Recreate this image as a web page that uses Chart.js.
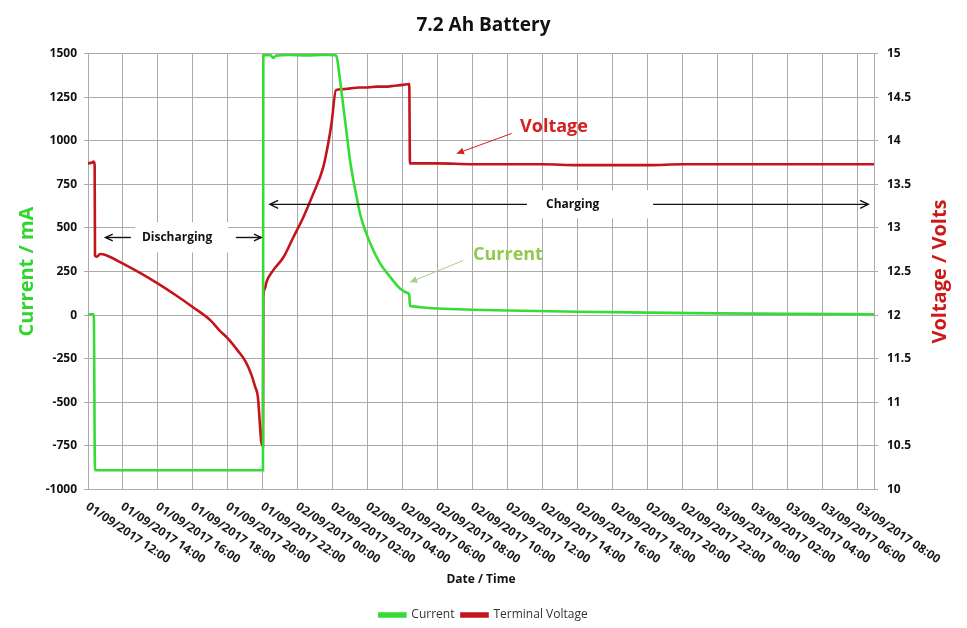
<!DOCTYPE html>
<html lang="en">
<head>
<meta charset="UTF-8">
<title>7.2 Ah Battery</title>
<script src="https://cdn.jsdelivr.net/npm/chart.js"></script>
<style>
    * { margin: 0; padding: 0; box-sizing: border-box; }
    body { background: #ffffff; width: 967px; height: 628px; overflow: hidden; }
    #chart-container { position: relative; width: 967px; height: 628px; }
</style>
</head>
<body>
<div id="chart-container"><canvas id="batteryChart"></canvas></div>
<script>
// x values are hours after 01/09/2017 12:00
const currentHours = [0, 0.33, 0.4, 10.0, 10.02, 10.4, 10.6, 10.75, 11.5, 12.5, 13.4, 14.1, 14.17,
    14.4, 14.59, 14.78, 14.97, 15.16, 15.35, 15.54, 15.83, 16.21, 16.69, 17.26, 17.83, 18.3, 18.36,
    18.4, 18.6, 19, 20, 22, 24, 28, 32, 36, 40, 44.92];
const currentMA = [5, 5, -890, -890, 1490, 1492, 1475, 1488, 1491, 1489, 1492, 1490, 1490,
    1351, 1197, 1044, 891, 776, 680, 584, 489, 393, 297, 220, 153, 125, 118,
    52, 50, 45, 38, 31, 26, 19, 14, 10, 7, 5];

const voltageHours = [0, 0.25, 0.32, 0.38, 0.4, 0.5, 0.7, 1.0, 2.0, 3.0, 4.0, 5.0, 6.0, 7.0, 7.54, 8.0,
    8.57, 9.0, 9.33, 9.55, 9.71, 9.81, 9.9, 10.0, 10.02, 10.1, 10.2, 10.57, 11.16, 11.73, 12.3,
    12.87, 13.45, 13.73, 13.92, 14.17, 14.5, 15.0, 15.5, 16.0, 16.5, 17.0, 17.5, 18.0, 18.36,
    18.4, 20, 22, 24, 26, 28, 30, 32, 34, 36, 40, 44.92];
const voltageV = [13.74, 13.75, 13.76, 13.72, 12.68, 12.67, 12.70, 12.69, 12.59, 12.48, 12.36, 12.23, 12.09, 11.94, 11.82, 11.73,
    11.59, 11.47, 11.32, 11.18, 11.06, 10.79, 10.55, 10.5, 12.2, 12.3, 12.38, 12.51, 12.66, 12.89, 13.12,
    13.39, 13.70, 13.97, 14.20, 14.58, 14.59, 14.60, 14.61, 14.61, 14.62, 14.62, 14.63, 14.64, 14.65,
    13.74, 13.74, 13.73, 13.73, 13.73, 13.72, 13.72, 13.72, 13.73, 13.73, 13.73, 13.73];

const tickHours = [0, 2, 4, 6, 8, 10, 12, 14, 16, 18, 20, 22, 24, 26, 28, 30, 32, 34, 36, 38, 40, 42, 44];
const tickLabels = [
    '01/09/2017 12:00', '01/09/2017 14:00', '01/09/2017 16:00', '01/09/2017 18:00',
    '01/09/2017 20:00', '01/09/2017 22:00', '02/09/2017 00:00', '02/09/2017 02:00',
    '02/09/2017 04:00', '02/09/2017 06:00', '02/09/2017 08:00', '02/09/2017 10:00',
    '02/09/2017 12:00', '02/09/2017 14:00', '02/09/2017 16:00', '02/09/2017 18:00',
    '02/09/2017 20:00', '02/09/2017 22:00', '03/09/2017 00:00', '03/09/2017 02:00',
    '03/09/2017 04:00', '03/09/2017 06:00', '03/09/2017 08:00'
];

const FONT = '"Open Sans", "DejaVu Sans", sans-serif';
const GRID = '#ababab';
const GREEN = '#36dc36';
const RED = '#c4141c';

// rotated date labels run down to the right, so they are drawn here
const xLabelPlugin = {
    id: 'xLabels',
    afterDraw(chart) {
        const ctx = chart.ctx;
        const xs = chart.scales.x;
        const bottom = chart.chartArea.bottom;
        ctx.save();
        ctx.font = 'bold 12px ' + FONT;
        ctx.fillStyle = '#1a1a1a';
        ctx.textAlign = 'left';
        ctx.textBaseline = 'middle';
        tickHours.forEach((h, i) => {
            ctx.save();
            ctx.translate(xs.getPixelForValue(h) - 1, bottom + 16);
            ctx.rotate(34 * Math.PI / 180);
            ctx.fillText(tickLabels[i], 0, 0);
            ctx.restore();
        });
        // right axis title reads bottom to top
        ctx.font = 'bold 20px ' + FONT;
        ctx.fillStyle = '#cc1a1a';
        ctx.textAlign = 'center';
        ctx.translate(940, (chart.chartArea.top + chart.chartArea.bottom) / 2);
        ctx.rotate(-Math.PI / 2);
        ctx.fillText('Voltage / Volts', 0, 0);
        ctx.restore();
    }
};

function arrowHead(ctx, x1, y1, x2, y2, size, filled) {
    const a = Math.atan2(y2 - y1, x2 - x1);
    ctx.beginPath();
    ctx.moveTo(x2 - size * Math.cos(a - 0.45), y2 - size * Math.sin(a - 0.45));
    ctx.lineTo(x2, y2);
    ctx.lineTo(x2 - size * Math.cos(a + 0.45), y2 - size * Math.sin(a + 0.45));
    if (filled) { ctx.closePath(); ctx.fill(); } else { ctx.stroke(); }
}

const notesPlugin = {
    id: 'notes',
    afterDatasetsDraw(chart) {
        const ctx = chart.ctx;
        const xs = chart.scales.x, ya = chart.scales.y, yv = chart.scales.y1;
        const X = h => xs.getPixelForValue(h);
        ctx.save();

        // Discharging
        let y = ya.getPixelForValue(445);
        ctx.fillStyle = '#ffffff';
        ctx.fillRect(X(2.7), ya.getPixelForValue(532), X(8.0) - X(2.7), ya.getPixelForValue(359) - ya.getPixelForValue(532));
        ctx.strokeStyle = '#111111';
        ctx.lineWidth = 1.4;
        ctx.beginPath(); ctx.moveTo(X(2.45), y); ctx.lineTo(X(1.0), y); ctx.stroke();
        arrowHead(ctx, X(2.45), y, X(1.0), y, 8, false);
        ctx.beginPath(); ctx.moveTo(X(8.45), y); ctx.lineTo(X(9.9), y); ctx.stroke();
        arrowHead(ctx, X(8.45), y, X(9.9), y, 8, false);
        ctx.fillStyle = '#111111';
        ctx.font = 'bold 12px ' + FONT;
        ctx.textAlign = 'center';
        ctx.textBaseline = 'middle';
        ctx.fillText('Discharging', X(5.09), y);

        // Charging
        y = ya.getPixelForValue(635);
        ctx.fillStyle = '#ffffff';
        ctx.fillRect(X(25.09), ya.getPixelForValue(716), X(32.29) - X(25.09), ya.getPixelForValue(555) - ya.getPixelForValue(716));
        ctx.beginPath(); ctx.moveTo(X(25.09), y); ctx.lineTo(X(10.4), y); ctx.stroke();
        arrowHead(ctx, X(25.09), y, X(10.4), y, 9, false);
        ctx.beginPath(); ctx.moveTo(X(32.29), y); ctx.lineTo(X(44.59), y); ctx.stroke();
        arrowHead(ctx, X(32.29), y, X(44.59), y, 9, false);
        ctx.fillStyle = '#111111';
        ctx.fillText('Charging', X(27.7), y);

        // Voltage label
        ctx.strokeStyle = '#d42020';
        ctx.fillStyle = '#d42020';
        ctx.lineWidth = 1;
        let x1 = X(24.21), y1 = yv.getPixelForValue(14.083), x2 = X(21.07), y2 = yv.getPixelForValue(13.853);
        ctx.beginPath(); ctx.moveTo(x1, y1); ctx.lineTo(x2, y2); ctx.stroke();
        arrowHead(ctx, x1, y1, x2, y2, 8, true);
        ctx.font = 'bold 18px ' + FONT;
        ctx.fillText('Voltage', X(26.63), yv.getPixelForValue(14.16));

        // Current label
        ctx.strokeStyle = '#a8cf86';
        ctx.fillStyle = '#a8cf86';
        x1 = X(21.45); y1 = ya.getPixelForValue(313); x2 = X(18.4); y2 = ya.getPixelForValue(189);
        ctx.beginPath(); ctx.moveTo(x1, y1); ctx.lineTo(x2, y2); ctx.stroke();
        arrowHead(ctx, x1, y1, x2, y2, 8, true);
        ctx.fillStyle = '#92c84f';
        ctx.fillText('Current', X(24.0), ya.getPixelForValue(348));
        ctx.restore();
    }
};

const ctx = document.getElementById('batteryChart').getContext('2d');
const batteryChart = new Chart(ctx, {
    type: 'line',
    data: {
        datasets: [
            {
                label: 'Current',
                data: currentHours.map((h, i) => ({ x: h, y: currentMA[i] })),
                borderColor: GREEN,
                backgroundColor: GREEN,
                borderWidth: 2.6,
                pointRadius: 0,
                cubicInterpolationMode: 'monotone',
                yAxisID: 'y',
            },
            {
                label: 'Terminal Voltage',
                data: voltageHours.map((h, i) => ({ x: h, y: voltageV[i] })),
                borderColor: RED,
                backgroundColor: RED,
                borderWidth: 2.6,
                pointRadius: 0,
                cubicInterpolationMode: 'monotone',
                yAxisID: 'y1',
            },
        ],
    },
    options: {
        responsive: true,
        maintainAspectRatio: false,
        animation: false,
        layout: { padding: { left: 0, right: 0, top: 0, bottom: -3 } },
        plugins: {
            title: {
                display: true,
                text: '7.2 Ah Battery',
                color: '#111111',
                font: { family: FONT, size: 19, weight: 'bold' },
                padding: { top: 14, bottom: 16.7 },
            },
            legend: {
                position: 'bottom',
                labels: {
                    color: '#333333',
                    font: { family: FONT, size: 12 },
                    boxWidth: 26,
                    boxHeight: 3,
                    padding: 7,
                },
            },
            tooltip: { enabled: false },
        },
        scales: {
            x: {
                type: 'linear',
                min: 0,
                max: 44.92,
                afterBuildTicks: (scale) => { scale.ticks = tickHours.map(v => ({ value: v })); },
                afterFit: (scale) => { scale.height = 112.5; },
                ticks: { display: false },
                grid: { color: GRID, drawTicks: false },
                border: { color: GRID },
                title: {
                    display: true,
                    text: 'Date / Time',
                    color: '#111111',
                    font: { family: FONT, size: 12, weight: 'bold' },
                    padding: { top: 0, bottom: 14.8 },
                },
            },
            y: {
                position: 'left',
                min: -1000,
                max: 1500,
                afterFit: (scale) => { scale.width = 88; },
                ticks: {
                    stepSize: 250,
                    color: '#111111',
                    font: { family: FONT, size: 12, weight: 'bold' },
                    padding: 7,
                    callback: (v) => String(v),
                },
                grid: { color: GRID, tickLength: 4 },
                border: { color: GRID },
                title: {
                    display: true,
                    text: 'Current / mA',
                    color: '#30d530',
                    font: { family: FONT, size: 20, weight: 'bold' },
                    padding: { top: 15, bottom: 0 },
                },
            },
            y1: {
                position: 'right',
                min: 10,
                max: 15,
                afterFit: (scale) => { scale.width = 93; },
                ticks: {
                    stepSize: 0.5,
                    color: '#111111',
                    font: { family: FONT, size: 12, weight: 'bold' },
                    padding: 9,
                    callback: (v) => String(v),
                },
                grid: { color: GRID, tickLength: 4, drawOnChartArea: false },
                border: { color: GRID },
            },
        },
    },
    plugins: [xLabelPlugin, notesPlugin],
});
</script>
</body>
</html>
